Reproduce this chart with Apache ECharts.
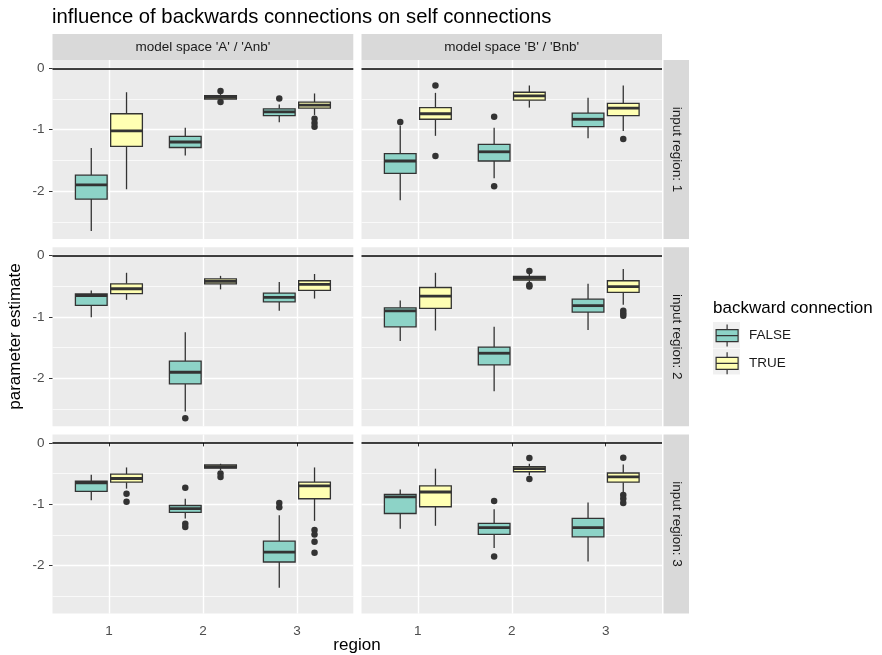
<!DOCTYPE html>
<html><head><meta charset="utf-8">
<script src="https://cdn.jsdelivr.net/npm/echarts@6/dist/echarts.min.js"></script>
<style>html,body{margin:0;padding:0;background:#fff}#c{width:882px;height:655px}</style>
</head><body><div id="c"></div>
<script>
// ---------- data ----------
const mainTitle = 'influence of backwards connections on self connections';
const regions = ['1', '2', '3'];
const groups = ['FALSE', 'TRUE'];
const modelSpaces = ["model space 'A' / 'Anb'", "model space 'B' / 'Bnb'"];
const inputRegions = ['input region: 1', 'input region: 2', 'input region: 3'];
const yTickValues = [-2, -1, 0];
const yMinorValues = [-2.5, -1.5, -0.5];
const xAxisTitle = 'region';
const yAxisTitle = 'parameter estimate';
const legendTitle = 'backward connection';

// box stats per region: [lower whisker, Q1, median, Q3, upper whisker]
const A_in1_false = [[-2.65, -2.13, -1.90, -1.74, -1.30], [-1.42, -1.29, -1.20, -1.11, -0.97], [-0.88, -0.77, -0.71, -0.66, -0.59]];
const A_in1_true  = [[-1.97, -1.27, -1.02, -0.74, -0.39], [-0.52, -0.50, -0.47, -0.445, -0.42], [-0.76, -0.65, -0.60, -0.55, -0.41]];
const A_in1_false_out = [[], [], [-0.49]];
const A_in1_true_out  = [[], [-0.37, -0.55], [-0.82, -0.89, -0.95]];

const B_in1_false = [[-2.15, -1.71, -1.51, -1.39, -0.93], [-1.79, -1.51, -1.36, -1.24, -0.97], [-1.14, -0.95, -0.83, -0.73, -0.48]];
const B_in1_true  = [[-1.10, -0.83, -0.74, -0.64, -0.40], [-0.64, -0.52, -0.45, -0.39, -0.28], [-1.02, -0.77, -0.65, -0.57, -0.28]];
const B_in1_false_out = [[-0.875], [-0.79, -1.92], []];
const B_in1_true_out  = [[-0.28, -1.43], [], [-1.15]];

const A_in2_false = [[-1.005, -0.81, -0.65, -0.625, -0.57], [-2.54, -2.09, -1.90, -1.72, -1.25], [-0.90, -0.755, -0.68, -0.61, -0.43]];
const A_in2_true  = [[-0.72, -0.62, -0.54, -0.46, -0.28], [-0.55, -0.46, -0.42, -0.38, -0.33], [-0.70, -0.565, -0.47, -0.41, -0.30]];
const A_in2_false_out = [[], [-2.65], []];
const A_in2_true_out  = [[], [], []];

const B_in2_false = [[-1.39, -1.16, -0.90, -0.85, -0.73], [-2.21, -1.78, -1.59, -1.49, -1.16], [-1.21, -0.92, -0.815, -0.71, -0.46]];
const B_in2_true  = [[-1.22, -0.86, -0.66, -0.52, -0.28], [-0.445, -0.40, -0.37, -0.34, -0.30], [-0.80, -0.60, -0.505, -0.41, -0.22]];
const B_in2_false_out = [[], [], []];
const B_in2_true_out  = [[], [-0.25, -0.48, -0.505], [-0.90, -0.94, -0.98]];

const A_in3_false = [[-0.935, -0.79, -0.65, -0.625, -0.52], [-1.23, -1.13, -1.07, -1.02, -0.91], [-2.36, -1.94, -1.78, -1.60, -1.18]];
const A_in3_true  = [[-0.745, -0.64, -0.58, -0.51, -0.40], [-0.445, -0.41, -0.39, -0.36, -0.34], [-1.27, -0.91, -0.70, -0.64, -0.40]];
const A_in3_false_out = [[], [-0.73, -1.315, -1.37], [-0.98, -1.05]];
const A_in3_true_out  = [[-0.83, -0.96], [-0.50, -0.555], [-1.42, -1.49, -1.61, -1.79]];

const B_in3_false = [[-1.40, -1.15, -0.88, -0.84, -0.76], [-1.71, -1.49, -1.38, -1.31, -1.08], [-1.93, -1.53, -1.38, -1.23, -0.97]];
const B_in3_true  = [[-1.35, -1.04, -0.80, -0.70, -0.42], [-0.53, -0.47, -0.42, -0.385, -0.34], [-0.80, -0.64, -0.555, -0.49, -0.35]];
const B_in3_false_out = [[], [-0.945, -1.85], []];
const B_in3_true_out  = [[], [-0.245, -0.59], [-0.24, -0.85, -0.91, -0.98]];

// ---------- layout / style ----------
const FONT = 'Liberation Sans';
const COLORS = ['#8DD3C7', '#FFFFB3'];
const STROKE = '#333333';
const DODGE = [-0.1875, 0.1875];
const HALF = 0.16875;
const colLeft = [52.5, 361.5];
const colWidth = [300.8, 300.5];
const rowTop = [60, 247.3, 434.6];
const rowHeight = 179;
const Y_MIN = -2.78, Y_MAX = 0.135;
const SMALL = 13.5, BIG = 17, TITLE = 20.3;

const panels = [
  [[A_in1_false, A_in1_true, A_in1_false_out, A_in1_true_out], [B_in1_false, B_in1_true, B_in1_false_out, B_in1_true_out]],
  [[A_in2_false, A_in2_true, A_in2_false_out, A_in2_true_out], [B_in2_false, B_in2_true, B_in2_false_out, B_in2_true_out]],
  [[A_in3_false, A_in3_true, A_in3_false_out, A_in3_true_out], [B_in3_false, B_in3_true, B_in3_false_out, B_in3_true_out]]
];

function boxRenderer(offset, fill) {
  return function (params, api) {
    const x = api.value(0) + offset;
    const lo = api.coord([x, api.value(1)]);
    const q1 = api.coord([x - HALF, api.value(2)]);
    const m0 = api.coord([x - HALF, api.value(3)]);
    const m1 = api.coord([x + HALF, api.value(3)]);
    const q3 = api.coord([x + HALF, api.value(4)]);
    const hi = api.coord([x, api.value(5)]);
    return {
      type: 'group',
      children: [
        { type: 'line', shape: { x1: hi[0], y1: hi[1], x2: hi[0], y2: q3[1] }, style: { stroke: STROKE, lineWidth: 1.3 } },
        { type: 'line', shape: { x1: lo[0], y1: q1[1], x2: lo[0], y2: lo[1] }, style: { stroke: STROKE, lineWidth: 1.3 } },
        { type: 'rect', shape: { x: q1[0], y: q3[1], width: q3[0] - q1[0], height: q1[1] - q3[1] }, style: { fill: fill, stroke: STROKE, lineWidth: 1.3 } },
        { type: 'line', shape: { x1: m0[0], y1: m0[1], x2: m1[0], y2: m1[1] }, style: { stroke: STROKE, lineWidth: 2.8 } }
      ]
    };
  };
}

const grids = [], xAxes = [], yAxes = [], series = [], graphics = [];
for (let r = 0; r < 3; r++) {
  for (let c = 0; c < 2; c++) {
    const gi = r * 2 + c;
    grids.push({ left: colLeft[c], top: rowTop[r], width: colWidth[c], height: rowHeight,
      show: true, backgroundColor: '#EBEBEB', borderWidth: 0 });
    xAxes.push({
      type: 'value', gridIndex: gi, min: 0.4, max: 3.6,
      axisLine: { show: false },
      axisTick: { show: r === 2, length: 3.5, lineStyle: { color: STROKE, width: 1 }, customValues: [1, 2, 3] },
      axisLabel: { show: r === 2, customValues: [1, 2, 3], margin: 10.5, color: '#4D4D4D', fontSize: SMALL, fontFamily: FONT,
        formatter: v => regions[Math.round(v) - 1] },
      splitLine: { show: true, lineStyle: { color: '#FFFFFF', width: 1.4 } }
    });
    yAxes.push({
      type: 'value', gridIndex: gi, min: Y_MIN, max: Y_MAX,
      axisLine: { show: false },
      axisTick: { show: c === 0, length: 3.5, lineStyle: { color: STROKE, width: 1 }, customValues: yTickValues },
      axisLabel: { show: c === 0, customValues: yTickValues, margin: 8, color: '#4D4D4D', fontSize: SMALL, fontFamily: FONT },
      splitLine: { show: true, lineStyle: { color: '#FFFFFF', width: 1.4 } }
    });
    // minor grid lines + zero line
    series.push({
      type: 'line', xAxisIndex: gi, yAxisIndex: gi, data: [], z: 1, silent: true,
      markLine: {
        silent: true, symbol: ['none', 'none'], label: { show: false }, z: 1, animation: false,
        data: yMinorValues.map(v => ({ yAxis: v, lineStyle: { color: '#FFFFFF', width: 0.7, type: 'solid' } }))
          .concat([{ yAxis: 0, lineStyle: { color: '#000000', width: 1.5, type: 'solid' } }])
      }
    });
    const p = panels[r][c];
    for (let g = 0; g < 2; g++) {
      series.push({
        type: 'custom', name: groups[g], xAxisIndex: gi, yAxisIndex: gi, z: 10,
        itemStyle: { color: COLORS[g] },
        renderItem: boxRenderer(DODGE[g], COLORS[g]),
        encode: { x: 0, y: [1, 2, 3, 4, 5] },
        data: p[g].map((s, i) => [i + 1].concat(s))
      });
      const outs = [];
      p[g + 2].forEach((list, i) => list.forEach(v => outs.push([i + 1 + DODGE[g], v])));
      series.push({
        type: 'scatter', name: 'outliers', xAxisIndex: gi, yAxisIndex: gi, z: 11,
        symbolSize: 6.5, itemStyle: { color: STROKE, opacity: 1 }, data: outs
      });
    }
  }
}

// strips
for (let c = 0; c < 2; c++) {
  graphics.push({ type: 'rect', left: colLeft[c], top: 34, shape: { width: colWidth[c], height: 26 }, style: { fill: '#D9D9D9' } });
  graphics.push({ type: 'text', x: colLeft[c] + colWidth[c] / 2, y: 47, style: { text: modelSpaces[c], fill: '#1A1A1A', font: SMALL + 'px "Liberation Sans"', textAlign: 'center', textVerticalAlign: 'middle' } });
}
for (let r = 0; r < 3; r++) {
  graphics.push({ type: 'rect', left: 663.5, top: rowTop[r], shape: { width: 25.5, height: rowHeight }, style: { fill: '#D9D9D9' } });
  graphics.push({ type: 'text', x: 676.3, y: rowTop[r] + rowHeight / 2, rotation: -Math.PI / 2, style: { text: inputRegions[r], fill: '#1A1A1A', font: SMALL + 'px "Liberation Sans"', textAlign: 'center', textVerticalAlign: 'middle' } });
}
// axis titles
graphics.push({ type: 'text', x: 357, y: 645, style: { text: xAxisTitle, fill: '#000', font: BIG + 'px "Liberation Sans"', textAlign: 'center', textVerticalAlign: 'middle' } });
graphics.push({ type: 'text', x: 15, y: 336.5, rotation: Math.PI / 2, style: { text: yAxisTitle, fill: '#000', font: BIG + 'px "Liberation Sans"', textAlign: 'center', textVerticalAlign: 'middle' } });
// legend title + key backgrounds
graphics.push({ type: 'text', x: 713, y: 308, style: { text: legendTitle, fill: '#000', font: BIG + 'px "Liberation Sans"', textAlign: 'left', textVerticalAlign: 'middle' } });
graphics.push({ type: 'rect', x: 713, y: 322, shape: { x: 0, y: 0, width: 27, height: 26 }, style: { fill: '#F0F0F0' }, z: 0 });
graphics.push({ type: 'rect', x: 713, y: 348.5, shape: { x: 0, y: 0, width: 27, height: 26 }, style: { fill: '#F0F0F0' }, z: 0 });

const ICON = 'path://M11,0L11,5M1,5L21,5L21,17L1,17ZM1,11L21,11M11,17L11,22';

const chart = echarts.init(document.getElementById('c'), null, { renderer: 'canvas' });
chart.setOption({
  animation: false,
  backgroundColor: '#FFFFFF',
  textStyle: { fontFamily: FONT },
  title: [{ text: mainTitle, left: 47, top: 2, textStyle: { fontSize: TITLE, fontWeight: 'normal', color: '#000', fontFamily: FONT } }],
  grid: grids, xAxis: xAxes, yAxis: yAxes, series: series,
  legend: {
    orient: 'vertical', left: 715.5, top: 324, padding: 0, itemWidth: 22, itemHeight: 22, itemGap: 4.5, z: 20,
    selectedMode: false, symbolKeepAspect: false,
    textStyle: { fontSize: SMALL, color: '#1A1A1A', fontFamily: FONT, padding: [0, 0, 0, 6] },
    data: groups.map((g, i) => ({ name: g, icon: ICON, itemStyle: { color: COLORS[i], borderColor: STROKE, borderWidth: 1.2 } }))
  },
  graphic: graphics
});
</script>
</body></html>
